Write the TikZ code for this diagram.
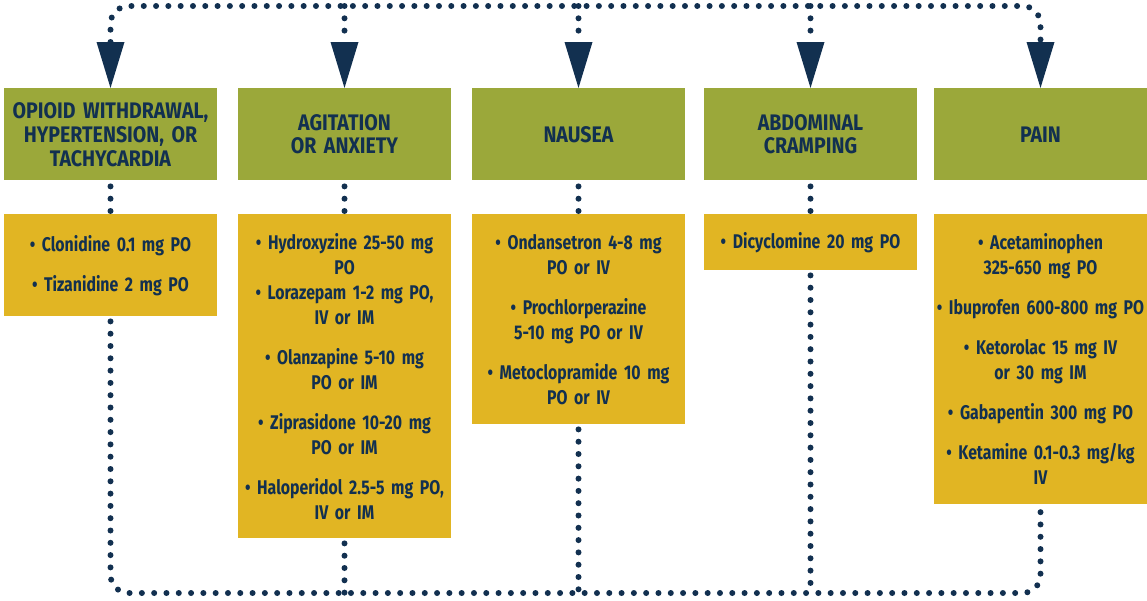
\documentclass[tikz,border=0pt]{standalone}
\usepackage{fontspec}
\setmainfont{Fira Sans}[FakeStretch=0.8]
\newfontfamily\hdrfont{Fira Sans}[FakeStretch=0.87]
\usetikzlibrary{arrows.meta}
\definecolor{mdNavy}{RGB}{18,48,80}
\definecolor{mdGreen}{RGB}{155,168,58}
\definecolor{mdGold}{RGB}{225,181,35}

\begin{document}
\begin{tikzpicture}[x=1pt, y=-1pt,
  hdr/.style={fill=mdGreen, text=mdNavy, anchor=north, minimum width=213pt,
    minimum height=92pt, text width=209pt, inner xsep=2pt, align=center,
    font=\hdrfont\fontsize{22.5}{24}\selectfont\bfseries},
  med/.style={fill=mdGold, text=mdNavy, anchor=north, minimum width=213pt,
    text width=209pt, inner xsep=2pt, inner ysep=0pt, align=center,
    font=\fontsize{19.8}{25}\selectfont\bfseries},
  bus/.style={mdNavy, line width=6pt, line cap=round, dash pattern=on 0pt off 12.3pt},
  >={Triangle[width=28pt, length=46pt, line width=0pt]}]
  \useasboundingbox (0,0) rectangle (1147,600);

  % symptom headers
  \node[hdr] (hdr1) at (110.5,88) {OPIOID WITHDRAWAL,\\HYPERTENSION, OR\\TACHYCARDIA};
  \node[hdr] (hdr2) at (344.5,88) {AGITATION\\OR ANXIETY};
  \node[hdr] (hdr3) at (578.5,88) {NAUSEA};
  \node[hdr] (hdr4) at (810.5,88) {ABDOMINAL\\CRAMPING};
  \node[hdr] (hdr5) at (1040.5,88) {PAIN};

  % medication boxes
  \node[med, minimum height=102pt] (med1) at (110.5,214)
    {• Clonidine 0.1 mg PO\\[15pt]• Tizanidine 2 mg PO};
  \node[med, minimum height=324pt] (med2) at (344.5,214)
    {• Hydroxyzine 25-50 mg\\PO\\• Lorazepam 1-2 mg PO,\\IV or IM\\[15pt]
     • Olanzapine 5-10 mg\\PO or IM\\[15pt]
     • Ziprasidone 10-20 mg\\PO or IM\\[15pt]
     • Haloperidol 2.5-5 mg PO,\\IV or IM};
  \node[med, minimum height=210pt] (med3) at (578.5,214)
    {• Ondansetron 4-8 mg\\PO or IV\\[15pt]
     • Prochlorperazine\\5-10 mg PO or IV\\[15pt]
     • Metoclopramide 10 mg\\PO or IV};
  \node[med, minimum height=56pt] (med4) at (810.5,214)
    {• Dicyclomine 20 mg PO};
  \node[med, minimum height=290pt] (med5) at (1040.5,214)
    {• Acetaminophen\\325-650 mg PO\\[15pt]
     • Ibuprofen 600-800 mg PO\\[15pt]
     • Ketorolac 15 mg IV\\or 30 mg IM\\[15pt]
     • Gabapentin 300 mg PO\\[15pt]
     • Ketamine 0.1-0.3 mg/kg\\IV};

  % dotted buses
  \coordinate (busT) at (578.5,6);
  \coordinate (busB) at (578.5,593);

  % top bus into the headers
  \draw[bus, <->, rounded corners=18pt] (hdr1.north) |- (busT) -| (hdr5.north);
  \draw[bus, ->] (hdr2.north |- busT) -- (hdr2.north);
  \draw[bus, ->] (hdr3.north |- busT) -- (hdr3.north);
  \draw[bus, ->] (hdr4.north |- busT) -- (hdr4.north);

  % header to medication
  \draw[bus, shorten <=6pt, shorten >=2pt] (hdr1) -- (med1);
  \draw[bus, shorten <=6pt, shorten >=2pt] (hdr2) -- (med2);
  \draw[bus, shorten <=6pt, shorten >=2pt] (hdr3) -- (med3);
  \draw[bus, shorten <=6pt, shorten >=2pt] (hdr4) -- (med4);

  % bottom bus
  \draw[bus, rounded corners=18pt, shorten <=5pt, shorten >=5pt]
    (med1.south) |- (busB) -| (med5.south);
  \draw[bus, shorten <=5pt] (med2.south) -- (med2.south |- busB);
  \draw[bus, shorten <=5pt] (med3.south) -- (med3.south |- busB);
  \draw[bus, shorten <=5pt] (med4.south) -- (med4.south |- busB);
\end{tikzpicture}
\end{document}
